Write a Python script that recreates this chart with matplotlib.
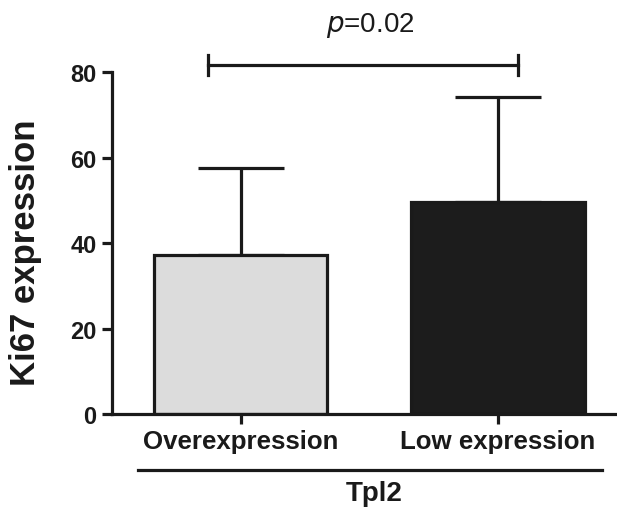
import matplotlib
matplotlib.use("Agg")
import matplotlib.pyplot as plt
from matplotlib import font_manager as fm
import os

categories = ["Overexpression", "Low expression"]
means = [37.2, 49.6]
upper_err = [20.5, 24.7]
bar_colors = ["#dcdcdc", "#1c1c1c"]
yticks = [0, 20, 40, 60, 80]
group_label = "Tpl2"
p_text = "p=0.02"


def find_font(name):
    for f in fm.findSystemFonts():
        if os.path.basename(f) == name:
            return f
    return None


bold_path = find_font("LiberationSans-Bold.ttf")
reg_path = find_font("LiberationSans-Regular.ttf")
if bold_path:
    BOLD = fm.FontProperties(fname=bold_path)
else:
    BOLD = fm.FontProperties(family='DejaVu Sans', weight='bold')
if reg_path:
    REG = fm.FontProperties(fname=reg_path)
else:
    REG = fm.FontProperties(family='DejaVu Sans')

plt.rcParams['mathtext.fontset'] = 'custom'
plt.rcParams['mathtext.it'] = 'Liberation Sans:italic'
plt.rcParams['mathtext.rm'] = 'Liberation Sans'


def fp(base, size):
    p = base.copy()
    p.set_size(size)
    return p


W, H = 617, 510
fig = plt.figure(figsize=(W / 100, H / 100), dpi=100)
ax = fig.add_axes([112 / W, 1 - 415 / H, (615 - 112) / W, (415 - 73.3) / H])

ink = "#1a1a1a"
lw = 2.3
x = list(range(len(categories)))
ax.bar(x, means, width=0.675, color=bar_colors, edgecolor=ink, linewidth=lw, zorder=2)
ax.errorbar(x, means, yerr=[[0, 0], upper_err], fmt='none', ecolor=ink,
            elinewidth=lw, capsize=31, capthick=lw, zorder=1)

ax.set_xlim(-0.5, 1.455)
ax.set_ylim(0, 80)
ax.set_yticks(yticks)
ax.set_xticks(x)
ax.set_xticklabels(categories, fontproperties=fp(BOLD, 18.6), color=ink)
ax.set_yticklabels([str(v) for v in yticks], fontproperties=fp(BOLD, 17), color=ink)
ax.tick_params(axis='y', width=lw, length=7, pad=4, colors=ink)
ax.tick_params(axis='x', width=lw, length=7, pad=4, colors=ink)

for s in ['top', 'right']:
    ax.spines[s].set_visible(False)
for s in ['left', 'bottom']:
    ax.spines[s].set_linewidth(lw)
    ax.spines[s].set_color(ink)

# significance bracket
x1, x2, yb = -0.127, 1.077, 81.7
ax.plot([x1, x2], [yb, yb], color=ink, lw=lw, clip_on=False)
ax.plot([x1, x1], [yb - 2.3, yb + 2.3], color=ink, lw=lw, clip_on=False)
ax.plot([x2, x2], [yb - 2.3, yb + 2.3], color=ink, lw=lw, clip_on=False)
fig.text(370 / W, 1 - 26 / H, r"$p$" + p_text[1:], fontproperties=fp(REG, 20),
         ha='center', va='center', color=ink)

# group line and label
fig.add_artist(plt.Line2D([137.7 / W, 601.7 / W], [1 - 470.7 / H, 1 - 470.7 / H],
                          color=ink, lw=lw))
fig.text(374 / W, 1 - 494 / H, group_label, fontproperties=fp(BOLD, 20),
         ha='center', va='center', color=ink)

fig.text(26 / W, 1 - 253 / H, "Ki67 expression", fontproperties=fp(BOLD, 25),
         rotation=90, ha='center', va='center', color=ink)

fig.savefig("out.png", dpi=100)
